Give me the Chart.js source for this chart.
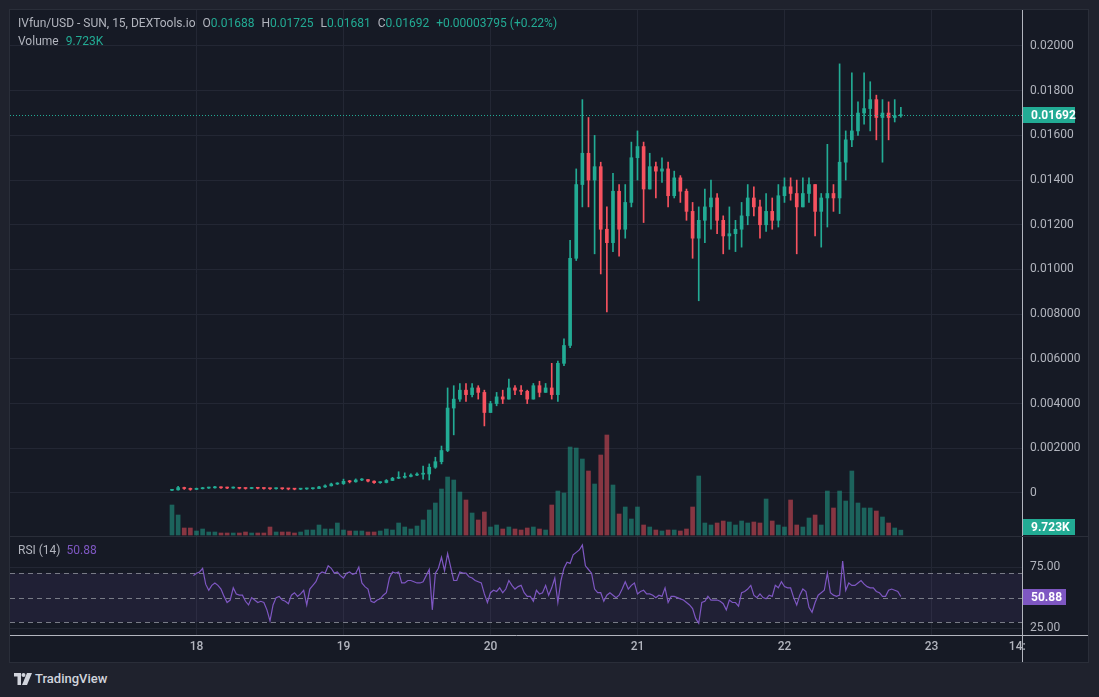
<!DOCTYPE html>
<html>
<head>
<meta charset="utf-8">
<script src="https://cdn.jsdelivr.net/npm/chart.js@4.4.1/dist/chart.umd.min.js"></script>
<style>
  body { margin: 0; width: 1099px; height: 697px; overflow: hidden; background: #1f222d; font-family: Roboto, "Liberation Sans", sans-serif; }
  #panel { position: absolute; left: 9px; top: 9px; width: 1078px; height: 652px; border: 1px solid #2a2e39; background: #161a25; }
  #panel canvas { position: absolute; left: 0; }
  .legend { position: absolute; left: 18px; font-size: 12px; line-height: 16px; color: #b2b5be; white-space: nowrap; }
  .legend .v { color: #22ab94; }
  .legend .g { margin-left: 7px; }
  .legend .p { color: #7e57c2; margin-left: 6px; }
  #logo { position: absolute; left: 14px; top: 671px; display: flex; align-items: center; color: #d1d4dc; font-size: 13px; font-weight: 500; }
</style>
</head>
<body>
<div id="panel">
  <canvas id="priceChart" width="1078" height="527" style="top:0"></canvas>
  <canvas id="rsiChart" width="1078" height="125" style="top:527px"></canvas>
</div>
<div class="legend" style="top:15px">IVfun/USD - SUN, 15, DEXTools.io<span class="g">O<span class="v">0.01688</span></span><span class="g">H<span class="v">0.01725</span></span><span class="g">L<span class="v">0.01681</span></span><span class="g">C<span class="v">0.01692</span></span><span class="g v">+0.00003795 (+0.22%)</span></div>
<div class="legend" style="top:33px">Volume<span class="g v">9.723K</span></div>
<div class="legend" style="top:542px">RSI (14)<span class="p">50.88</span></div>
<div id="logo">
  <svg width="18" height="12" viewBox="0 0 18 12"><path d="M0 0h7v12H3.5V3.5H0z" fill="#d1d4dc"/><circle cx="9.5" cy="2" r="2" fill="#d1d4dc"/><path d="M13 0h5l-5 12H8z" fill="#d1d4dc"/></svg>
  <span style="margin-left:3px">TradingView</span>
</div>
<script>
// hourly candles, hour 0 = 17th 20:00
const firstOpen = 0.00012;
const closes = [
  0.00014, 0.00024, 0.00020, 0.00016, 0.00019, 0.00022, 0.00023, 0.00025, 0.00023, 0.00022,
  0.00024, 0.00021, 0.00020, 0.00022, 0.00021, 0.00020, 0.00019, 0.00020, 0.00019, 0.00018,
  0.00017, 0.00018, 0.00019, 0.00020, 0.00027, 0.00032, 0.00040, 0.00042, 0.00052, 0.00050,
  0.00058, 0.00060, 0.00053, 0.00046, 0.00047, 0.00056, 0.00066, 0.00070, 0.00074, 0.00080,
  0.00084, 0.00085, 0.00115, 0.00140, 0.00190, 0.00380, 0.00420, 0.00460, 0.00440, 0.00470,
  0.00450, 0.00360, 0.00400, 0.00430, 0.00420, 0.00470, 0.00460, 0.00455, 0.00420, 0.00480,
  0.00450, 0.00470, 0.00440, 0.00580, 0.00660, 0.01050, 0.01380, 0.01520, 0.01400, 0.01460,
  0.01180, 0.01120, 0.01350, 0.01180, 0.01300, 0.01500, 0.01550, 0.01360, 0.01460, 0.01440,
  0.01450, 0.01330, 0.01410, 0.01350, 0.01260, 0.01140, 0.01220, 0.01280, 0.01320, 0.01220,
  0.01150, 0.01160, 0.01180, 0.01240, 0.01320, 0.01280, 0.01200, 0.01260, 0.01220, 0.01330,
  0.01370, 0.01340, 0.01280, 0.01340, 0.01380, 0.01260, 0.01320, 0.01340, 0.01320, 0.01480,
  0.01580, 0.01620, 0.01700, 0.01720, 0.01760, 0.01680, 0.01700, 0.01680, 0.01688, 0.01692
];
const highs = [
  0.00016, 0.00030, 0.00026, 0.00022, 0.00022, 0.00025, 0.00026, 0.00030, 0.00027, 0.00026,
  0.00027, 0.00025, 0.00023, 0.00025, 0.00024, 0.00023, 0.00022, 0.00023, 0.00022, 0.00021,
  0.00020, 0.00021, 0.00022, 0.00023, 0.00030, 0.00036, 0.00044, 0.00046, 0.00062, 0.00056,
  0.00063, 0.00064, 0.00060, 0.00054, 0.00050, 0.00060, 0.00070, 0.00095, 0.00090, 0.00086,
  0.00090, 0.00120, 0.00130, 0.00160, 0.00210, 0.00470, 0.00480, 0.00490, 0.00490, 0.00490,
  0.00480, 0.00460, 0.00410, 0.00450, 0.00460, 0.00510, 0.00480, 0.00480, 0.00460, 0.00490,
  0.00500, 0.00490, 0.00580, 0.00590, 0.00690, 0.01130, 0.01450, 0.01760, 0.01680, 0.01600,
  0.01480, 0.01280, 0.01430, 0.01380, 0.01380, 0.01570, 0.01620, 0.01570, 0.01520, 0.01480,
  0.01500, 0.01480, 0.01440, 0.01420, 0.01360, 0.01300, 0.01280, 0.01360, 0.01400, 0.01340,
  0.01240, 0.01280, 0.01220, 0.01300, 0.01380, 0.01370, 0.01310, 0.01340, 0.01320, 0.01380,
  0.01410, 0.01410, 0.01400, 0.01410, 0.01410, 0.01380, 0.01340, 0.01560, 0.01380, 0.01920,
  0.01620, 0.01880, 0.01750, 0.01880, 0.01840, 0.01780, 0.01760, 0.01750, 0.01760, 0.01725
];
const lows = [
  0.00010, 0.00012, 0.00016, 0.00012, 0.00015, 0.00018, 0.00020, 0.00022, 0.00020, 0.00019,
  0.00021, 0.00018, 0.00017, 0.00019, 0.00018, 0.00017, 0.00016, 0.00017, 0.00016, 0.00014,
  0.00014, 0.00015, 0.00016, 0.00017, 0.00019, 0.00025, 0.00031, 0.00038, 0.00038, 0.00045,
  0.00048, 0.00055, 0.00050, 0.00043, 0.00043, 0.00045, 0.00055, 0.00064, 0.00066, 0.00072,
  0.00077, 0.00062, 0.00058, 0.00110, 0.00130, 0.00185, 0.00260, 0.00410, 0.00410, 0.00430,
  0.00420, 0.00300, 0.00360, 0.00390, 0.00400, 0.00420, 0.00440, 0.00440, 0.00400, 0.00420,
  0.00430, 0.00450, 0.00420, 0.00410, 0.00570, 0.00650, 0.01040, 0.01280, 0.01280, 0.01070,
  0.00980, 0.00810, 0.01080, 0.01060, 0.01140, 0.01280, 0.01400, 0.01210, 0.01360, 0.01320,
  0.01390, 0.01280, 0.01320, 0.01300, 0.01220, 0.01050, 0.00860, 0.01120, 0.01180, 0.01160,
  0.01070, 0.01090, 0.01080, 0.01100, 0.01200, 0.01240, 0.01140, 0.01170, 0.01180, 0.01190,
  0.01300, 0.01310, 0.01070, 0.01280, 0.01300, 0.01150, 0.01100, 0.01190, 0.01260, 0.01250,
  0.01400, 0.01550, 0.01600, 0.01650, 0.01620, 0.01580, 0.01480, 0.01580, 0.01660, 0.01681
];
// volume in thousands
const volumes = [
  60, 40, 14, 14, 8, 12, 6, 6, 4, 4,
  4, 4, 6, 4, 4, 4, 16, 6, 6, 6,
  4, 6, 10, 10, 20, 12, 12, 24, 10, 8,
  8, 8, 6, 6, 8, 12, 10, 24, 16, 12,
  18, 30, 50, 64, 92, 116, 110, 86, 70, 44,
  30, 46, 16, 20, 12, 16, 12, 10, 14, 16,
  12, 10, 60, 88, 84, 176, 174, 152, 128, 102,
  160, 200, 100, 42, 56, 32, 56, 20, 16, 10,
  8, 10, 10, 8, 12, 56, 118, 24, 20, 24,
  28, 26, 20, 28, 24, 26, 24, 72, 28, 20,
  16, 70, 20, 16, 34, 40, 20, 88, 54, 88,
  68, 128, 64, 54, 54, 48, 36, 24, 14, 9.723
];
// RSI(14) every 30 minutes, from hour 3.5
const rsiStart = 3.5;
const rsiStep = 0.5;
const rsiValues = [
  68, 70, 71, 74, 61, 56, 60, 62, 60, 57,
  51, 46, 48, 58, 53, 52, 52, 47, 44, 50,
  48, 46, 47, 46, 40, 31, 44, 50, 51, 48,
  47, 45, 52, 54, 51, 53, 56, 44, 57, 60,
  63, 69, 71, 70, 76, 74, 70, 71, 68, 66,
  70, 71, 69, 70, 75, 62, 59, 57, 47, 46,
  48, 49, 52, 54, 66, 71, 70, 71, 62, 62,
  64, 64, 63, 62, 62, 63, 68, 73, 40, 70,
  74, 83, 72, 86, 75, 64, 64, 71, 70, 70,
  67, 66, 64, 63, 62, 53, 46, 54, 56, 55,
  58, 54, 57, 64, 60, 57, 59, 60, 54, 51,
  51, 47, 56, 53, 54, 60, 52, 58, 66, 46,
  64, 74, 79, 78, 85, 87, 89, 93, 76, 73,
  70, 57, 54, 54, 47, 52, 54, 52, 50, 52,
  57, 63, 57, 60, 62, 53, 55, 56, 53, 53,
  52, 50, 52, 51, 58, 46, 51, 51, 50, 49,
  48, 46, 44, 41, 33, 29, 46, 47, 51, 48,
  48, 48, 47, 45, 40, 48, 46, 46, 43, 54,
  55, 57, 60, 52, 50, 53, 50, 49, 52, 51,
  60, 58, 63, 59, 58, 58, 50, 44, 52, 57,
  55, 42, 38, 46, 52, 54, 56, 70, 54, 52,
  51, 52, 80, 56, 62, 60, 60, 62, 64, 61,
  59, 58, 58, 55, 54, 51, 51, 56, 57, 56,
  55, 50.88
];
const priceTicks = [0, 0.002, 0.004, 0.006, 0.008, 0.010, 0.012, 0.014, 0.016, 0.018, 0.020];
const priceTickLabels = ['0', '0.002000', '0.004000', '0.006000', '0.008000', '0.01000', '0.01200', '0.01400', '0.01600', '0.01800', '0.02000'];
const dayTicks = [4, 28, 52, 76, 100, 124, 138];
const dayLabels = ['18', '19', '20', '21', '22', '23', '14:'];
const rsiTicks = [25, 75];

const upColor = '#22ab94';
const downColor = '#f7525f';
const upVol = 'rgba(34,171,148,0.5)';
const downVol = 'rgba(247,82,95,0.5)';
const rsiColor = '#7e57c2';
const gridColor = '#232734';
const textColor = '#b2b5be';
const axisLine = '#b2b5be';
const xMin = -26.45, xMax = 138.78;

const opens = closes.map((c, i) => i === 0 ? firstOpen : closes[i - 1]);
const isUp = closes.map((c, i) => c >= opens[i]);
const candleColors = isUp.map(u => u ? upColor : downColor);
const volColors = isUp.map(u => u ? upVol : downVol);

const font = { family: 'Roboto', size: 12 };

// drop the label padding Chart.js adds around the plot
function noPad(s) {
  s.paddingTop = 0; s.paddingBottom = 0; s.paddingLeft = 0; s.paddingRight = 0;
}

function drawTag(ctx, x, y, w, text, color) {
  ctx.save();
  ctx.fillStyle = color;
  ctx.fillRect(x, Math.round(y) - 8, w, 16);
  ctx.fillStyle = '#ffffff';
  ctx.font = 'bold 12px Roboto';
  ctx.textBaseline = 'middle';
  ctx.fillText(text, x + 8, Math.round(y) + 0.5);
  ctx.restore();
}

const priceDecor = {
  id: 'priceDecor',
  afterDatasetsDraw(chart) {
    const { ctx, chartArea, scales } = chart;
    const y = Math.round(scales.y.getPixelForValue(closes[closes.length - 1])) + 0.5;
    ctx.save();
    ctx.strokeStyle = upColor;
    ctx.setLineDash([1, 2]);
    ctx.beginPath();
    ctx.moveTo(chartArea.left, y);
    ctx.lineTo(chartArea.right, y);
    ctx.stroke();
    ctx.restore();
  },
  afterDraw(chart) {
    const { ctx, chartArea, scales, width, height } = chart;
    ctx.save();
    ctx.strokeStyle = '#2a2e39';
    ctx.beginPath();
    ctx.moveTo(0, height - 0.5);
    ctx.lineTo(width, height - 0.5);
    ctx.stroke();
    ctx.restore();
    drawTag(ctx, chartArea.right + 1, scales.y.getPixelForValue(closes[closes.length - 1]), 52, '0.01692', upColor);
    const vy = Math.min(scales.yVol.getPixelForValue(volumes[volumes.length - 1]), chartArea.bottom - 10);
    drawTag(ctx, chartArea.right + 1, vy, 52, '9.723K', upColor);
  }
};

const rsiDecor = {
  id: 'rsiDecor',
  beforeDatasetsDraw(chart) {
    const { ctx, chartArea, scales } = chart;
    const y70 = scales.y.getPixelForValue(70);
    const y30 = scales.y.getPixelForValue(30);
    ctx.save();
    ctx.fillStyle = 'rgba(126,87,194,0.1)';
    ctx.fillRect(chartArea.left, y70, chartArea.right - chartArea.left, y30 - y70);
    ctx.strokeStyle = '#787b86';
    ctx.setLineDash([5, 4]);
    [70, 50, 30].forEach(v => {
      const y = Math.round(scales.y.getPixelForValue(v)) + 0.5;
      ctx.beginPath();
      ctx.moveTo(chartArea.left, y);
      ctx.lineTo(chartArea.right, y);
      ctx.stroke();
    });
    ctx.restore();
  },
  afterDraw(chart) {
    const { ctx, chartArea, scales, width, height } = chart;
    ctx.save();
    ctx.strokeStyle = axisLine;
    ctx.beginPath();
    ctx.moveTo(chartArea.right, chartArea.bottom + 0.5);
    ctx.lineTo(width, chartArea.bottom + 0.5);
    ctx.moveTo(chartArea.right + 0.5, chartArea.bottom);
    ctx.lineTo(chartArea.right + 0.5, height);
    ctx.stroke();
    ctx.restore();
    drawTag(ctx, chartArea.right + 1, scales.y.getPixelForValue(rsiValues[rsiValues.length - 1]), 43, '50.88', rsiColor);
  }
};

new Chart(document.getElementById('priceChart'),
{
  type: 'bar',
  data:
  {
    datasets: [
      {
        label: 'Body',
        data: closes.map((c, i) => ({ x: i, y: [opens[i], c] })),
        backgroundColor: candleColors,
        barThickness: 3,
        minBarLength: 1,
        grouped: false
      },
      {
        label: 'Wick',
        data: closes.map((c, i) => ({ x: i, y: [lows[i], highs[i]] })),
        backgroundColor: candleColors,
        barThickness: 1,
        grouped: false
      },
      {
        label: 'Volume',
        data: volumes.map((v, i) => ({ x: i, y: v })),
        backgroundColor: volColors,
        barThickness: 4,
        grouped: false,
        yAxisID: 'yVol'
      }
    ]
  },
  options:
  {
    responsive: false,
    animation: false,
    layout: { padding: 0 },
    plugins: { legend: { display: false }, tooltip: { enabled: false } },
    scales:
    {
      x:
      {
        type: 'linear', min: xMin, max: xMax, offset: false,
        afterBuildTicks: s => { s.ticks = dayTicks.slice(0, 6).map(v => ({ value: v })); },
        afterFit: s => { s.height = 0; noPad(s); },
        ticks: { display: false },
        grid: { color: gridColor, drawTicks: false, offset: false },
        border: { display: false }
      },
      y:
      {
        position: 'right', min: -0.00197, max: 0.02161,
        afterBuildTicks: s => { s.ticks = priceTicks.map(v => ({ value: v })); },
        afterFit: s => { s.width = 66; noPad(s); },
        ticks: { color: textColor, font: font, padding: 8, callback: v => priceTickLabels[priceTicks.indexOf(v)] },
        grid: { color: gridColor, drawTicks: false },
        border: { display: true, color: axisLine }
      },
      yVol: { display: false, min: -4, max: 1050, afterFit: noPad }
    }
  },
  plugins: [priceDecor]
});

new Chart(document.getElementById('rsiChart'),
{
  type: 'line',
  data:
  {
    datasets: [
      {
        label: 'RSI (14)',
        data: rsiValues.map((v, k) => ({ x: rsiStart + k * rsiStep, y: v })),
        borderColor: rsiColor,
        borderWidth: 1.2,
        pointRadius: 0,
        tension: 0
      }
    ]
  },
  options:
  {
    responsive: false,
    animation: false,
    layout: { padding: 0 },
    plugins: { legend: { display: false }, tooltip: { enabled: false } },
    scales:
    {
      x:
      {
        type: 'linear', min: xMin, max: xMax,
        afterBuildTicks: s => { s.ticks = dayTicks.map(v => ({ value: v })); },
        afterFit: s => { s.height = 27; noPad(s); },
        ticks: { color: textColor, font: { family: 'Roboto', size: 12, weight: '500' }, padding: 5, maxRotation: 0, autoSkip: false,
                 callback: v => dayLabels[dayTicks.indexOf(v)] },
        grid: { color: c => (c.tick && c.tick.value > 130) ? 'rgba(0,0,0,0)' : gridColor, drawTicks: false },
        border: { display: true, color: axisLine }
      },
      y:
      {
        position: 'right', min: 19.4, max: 99.6,
        afterBuildTicks: s => { s.ticks = rsiTicks.map(v => ({ value: v })); },
        afterFit: s => { s.width = 66; noPad(s); },
        ticks: { color: textColor, font: font, padding: 8, callback: v => v.toFixed(2) },
        grid: { color: gridColor, drawTicks: false },
        border: { display: true, color: axisLine }
      }
    }
  },
  plugins: [rsiDecor]
});
</script>
</body>
</html>
